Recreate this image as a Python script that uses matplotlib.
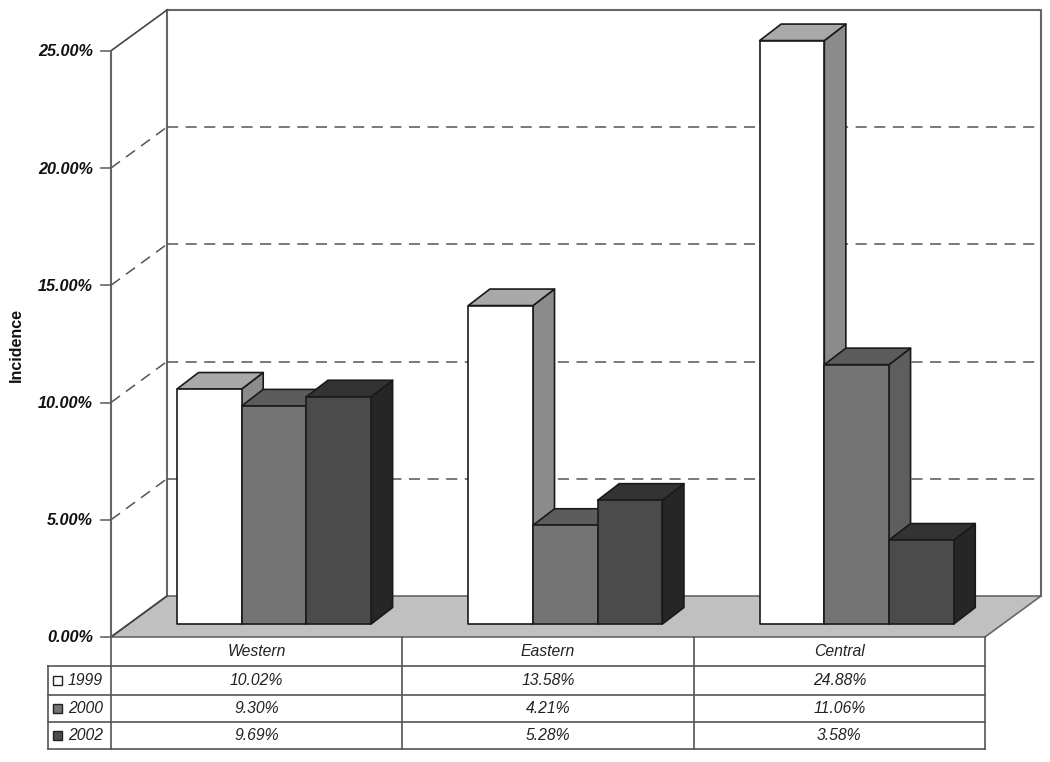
import matplotlib
matplotlib.use("Agg")
import matplotlib.pyplot as plt
from matplotlib.patches import Polygon, Rectangle

plt.rcParams['font.family'] = ['Liberation Sans', 'DejaVu Sans']
plt.rcParams['lines.scale_dashes'] = False

categories = ["Western", "Eastern", "Central"]
series_names = ["1999", "2000", "2002"]
v1999 = [10.02, 13.58, 24.88]
v2000 = [9.30, 4.21, 11.06]
v2002 = [9.69, 5.28, 3.58]
yticks = [0, 5, 10, 15, 20, 25]
ylabel = "Incidence"

series = [v1999, v2000, v2002]
faces = [("#ffffff", "#a9a9a9", "#8b8b8b"),
         ("#747474", "#5c5c5c", "#5e5e5e"),
         ("#4b4b4b", "#333333", "#262626")]

W, H = 1050, 762
X0, Y0 = 111, 637          # pixel of category 0, value 0
CATW, VALH = 291.33, 23.45 # pixels per category, per percent

fig = plt.figure(figsize=(W / 100, H / 100), dpi=100, facecolor="white")
ax = fig.add_axes([0, 0, 1, 1])
ax.set_xlim(-X0 / CATW, (W - X0) / CATW)
ax.set_ylim(-(H - Y0) / VALH, Y0 / VALH)
ax.axis("off")

def px(x):   # horizontal pixel offset to data
    return x / CATW
def py(y):   # vertical pixel offset to data
    return y / VALH
def X(xp):
    return (xp - X0) / CATW
def Y(yp):
    return (Y0 - yp) / VALH

WALL = "#666666"
EDGE = "#1a1a1a"
DX, DY = px(56), py(41)    # depth of the chart box
top = Y(10)

# floor and walls
ax.add_patch(Polygon([(0, 0), (DX, DY), (3 + DX, DY), (3, 0)],
                     closed=True, fc="#c0c0c0", ec=WALL, lw=1.2, zorder=1))
ax.plot([0, 0], [0, yticks[-1]], color=WALL, lw=1.5, zorder=2)
ax.plot([DX, DX], [DY, top], color=WALL, lw=1.5, zorder=2)
ax.plot([DX, 3 + DX, 3 + DX], [top, top, DY], color=WALL, lw=1.5, zorder=2)
ax.plot([0, DX], [yticks[-1], top], color="#444444", lw=1.2, zorder=2)
ax.plot([0, DX], [0, DY], color="#444444", lw=1.2, zorder=2)

# gridlines and tick labels
dash = (0, (8.0, 5.4))
for t in yticks:
    ax.plot([-px(10), 0], [t, t], color=WALL, lw=1.2, zorder=2)
    ax.text(-px(18), t - py(1), f"{t:.2f}%", ha="right", va="center",
            fontsize=11.7, fontweight="bold", fontstyle="italic", color="#111111")
    if 0 < t < yticks[-1]:
        ax.plot([0, DX], [t, t + DY], color="#555555", lw=1.1, ls=dash, zorder=2)
        ax.plot([DX, 3 + DX], [t + DY, t + DY], color="#555555", lw=1.1, ls=dash, zorder=2)

ax.text(X(16), Y(345), ylabel, rotation=90, ha="center",
        va="center", fontsize=11.5, fontweight="bold", color="#111111")

# bars
BW = px(64.7)
BDX, BDY = px(21.5), py(16.5)
BASE_X = px(66)             # first bar's left edge from its category start
BASE_Y = py(13)             # front of bars sits 13 px up the floor
z = 3
for c in range(len(categories)):
    for s, vals in enumerate(series):
        x0 = c + BASE_X + s * BW
        x1 = x0 + BW
        y0, y1 = BASE_Y, BASE_Y + vals[c]
        fr, tp, sd = faces[s]
        ec = dict(ec=EDGE, lw=1.2, joinstyle="round", zorder=z)
        ax.add_patch(Polygon([(x1, y0), (x1 + BDX, y0 + BDY), (x1 + BDX, y1 + BDY), (x1, y1)],
                             closed=True, fc=sd, **ec))
        ax.add_patch(Polygon([(x0, y1), (x0 + BDX, y1 + BDY), (x1 + BDX, y1 + BDY), (x1, y1)],
                             closed=True, fc=tp, **ec))
        ax.add_patch(Rectangle((x0, y0), BW, vals[c], fc=fr, **ec))
        z += 1

# data table
rows = [666, 695, 722, 748.5]
left = X(48)
LINE = "#555555"
for r in rows:
    ax.plot([left, 3], [Y(r), Y(r)], color=LINE, lw=1.2, zorder=1)
ax.plot([left, left], [Y(rows[0]), Y(rows[-1])], color=LINE, lw=1.2, zorder=1)
for c in range(0, 4):
    ax.plot([c, c], [0, Y(rows[-1])], color=LINE, lw=1.2, zorder=1)

txt = dict(ha="center", va="center", fontsize=11.3, fontstyle="italic", color="#222222")
for c, name in enumerate(categories):
    ax.text(c + 0.5, Y(651), name, **txt)
    for s, vals in enumerate(series):
        ax.text(c + 0.5, Y((rows[s] + rows[s + 1]) / 2), f"{vals[c]:.2f}%", **txt)

for s, name in enumerate(series_names):
    yc = (rows[s] + rows[s + 1]) / 2
    ax.add_patch(Rectangle((X(53), Y(yc + 4.5)), px(9), py(9), fc=faces[s][0], ec="#222222", lw=1.0, zorder=3))
    ax.text(X(68), Y(yc), name, ha="left", va="center", fontsize=11.3,
            fontstyle="italic", color="#222222")

fig.savefig("out.png", dpi=100, facecolor="white")
